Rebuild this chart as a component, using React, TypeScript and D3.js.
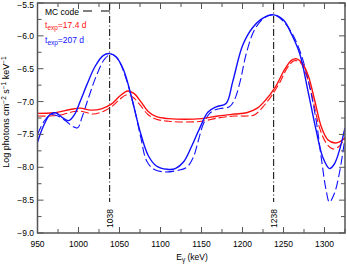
import React from "react";
import * as d3 from "d3";

const xTicksMajor = [950, 1000, 1050, 1100, 1150, 1200, 1250, 1300];
const xTicksMinor = [975, 1025, 1075, 1125, 1175, 1225, 1275, 1325];
const yTicksMajor = [-5.5, -6.0, -6.5, -7.0, -7.5, -8.0, -8.5, -9.0];
const yTicksMinor = [-5.75, -6.25, -6.75, -7.25, -7.75, -8.25, -8.75];
const markerLines = [1038, 1238];

const blueSolid: [number, number][] = [
  [950, -7.62], [957, -7.38], [965, -7.2], [972, -7.17], [980, -7.24], [988, -7.29],
  [995, -7.2], [1002, -7.0], [1010, -6.75], [1020, -6.47], [1030, -6.3], [1038, -6.27],
  [1046, -6.32], [1055, -6.52], [1065, -6.95], [1075, -7.45], [1085, -7.82], [1095, -7.98],
  [1108, -8.03], [1118, -8.02], [1128, -7.92], [1138, -7.68], [1148, -7.4], [1158, -7.16],
  [1168, -7.08], [1180, -7.03], [1188, -6.7], [1200, -6.15], [1212, -5.88], [1225, -5.73],
  [1238, -5.68], [1250, -5.76], [1260, -5.98], [1270, -6.28], [1280, -6.85], [1290, -7.45],
  [1298, -7.85], [1306, -8.02], [1312, -7.95], [1318, -7.75], [1325, -7.4],
];

const blueDashed: [number, number][] = [
  [950, -7.5], [958, -7.3], [966, -7.2], [975, -7.22], [985, -7.3], [993, -7.38],
  [999, -7.4], [1004, -7.25], [1012, -6.95], [1022, -6.6], [1032, -6.35], [1040, -6.28],
  [1048, -6.35], [1058, -6.65], [1068, -7.1], [1076, -7.55], [1083, -7.9], [1092, -8.03],
  [1105, -8.07], [1120, -8.05], [1132, -8.0], [1140, -7.85], [1146, -7.6], [1152, -7.35],
  [1160, -7.18], [1168, -7.12], [1176, -7.1], [1184, -7.08], [1190, -6.98], [1197, -6.7],
  [1205, -6.25], [1215, -5.9], [1227, -5.72], [1238, -5.68], [1250, -5.78], [1262, -6.0],
  [1272, -6.3], [1282, -6.78], [1290, -7.3], [1296, -7.85], [1302, -8.35], [1306, -8.53],
  [1312, -8.4], [1318, -8.1], [1325, -7.55],
];

const redSolid: [number, number][] = [
  [950, -7.18], [970, -7.17], [990, -7.12], [1002, -7.1], [1015, -7.13], [1028, -7.11],
  [1040, -7.04], [1050, -6.92], [1060, -6.84], [1068, -6.88], [1076, -7.0], [1085, -7.15],
  [1095, -7.23], [1110, -7.26], [1130, -7.27], [1150, -7.26], [1170, -7.22], [1190, -7.19],
  [1205, -7.17], [1218, -7.1], [1228, -6.98], [1240, -6.78], [1252, -6.5], [1260, -6.37],
  [1266, -6.35], [1273, -6.42], [1280, -6.6], [1288, -6.98], [1296, -7.38], [1304, -7.58],
  [1313, -7.63], [1320, -7.6], [1325, -7.55],
];

const redDashed: [number, number][] = [
  [950, -7.22], [965, -7.22], [980, -7.2], [995, -7.15], [1005, -7.15], [1018, -7.19],
  [1030, -7.15], [1040, -7.08], [1050, -6.97], [1058, -6.9], [1066, -6.93], [1075, -7.05],
  [1085, -7.2], [1095, -7.27], [1110, -7.3], [1130, -7.31], [1150, -7.3], [1170, -7.25],
  [1190, -7.22], [1205, -7.22], [1215, -7.2], [1225, -7.08], [1235, -6.92], [1245, -6.72],
  [1255, -6.48], [1263, -6.38], [1270, -6.4], [1278, -6.6], [1286, -6.98], [1294, -7.4],
  [1302, -7.63], [1310, -7.72], [1318, -7.68], [1325, -7.55],
];

const W = 347;
const H = 265;
const L = 37.5;
const R = 345;
const T = 3;
const B = 233;

export default function App() {
  const x = d3.scaleLinear().domain([950, 1325]).range([L, R]);
  const y = d3.scaleLinear().domain([-5.5, -9.0]).range([T, B]);
  const line = d3
    .line<[number, number]>()
    .x((d) => x(d[0]))
    .y((d) => y(d[1]))
    .curve(d3.curveCatmullRom.alpha(0.5));
  const font = "Liberation Sans, Arial, sans-serif";
  const axisColor = "#555";
  const fmt = (v: number) => (v < 0 ? "\u2212" : "") + Math.abs(v).toFixed(1);

  return (
    <svg
      width={W}
      height={H}
      style={{ position: "absolute", left: 0, top: 0, background: "#fff" }}
      fontFamily={font}
    >
      <defs>
        <clipPath id="plot">
          <rect x={L} y={T} width={R - L} height={B - T} />
        </clipPath>
      </defs>

      {/* marker lines */}
      {markerLines.map((m) => (
        <g key={m}>
          <line
            x1={x(m)}
            x2={x(m)}
            y1={T}
            y2={202}
            stroke="#000"
            strokeWidth={1}
            strokeDasharray="7,2.5,1,2.5"
          />
          <text
            transform={`translate(${x(m) + 3},${228}) rotate(-90)`}
            fontSize={8.5}
            fill="#000"
          >
            {m}
          </text>
        </g>
      ))}

      {/* curves */}
      <g clipPath="url(#plot)" fill="none">
        <path d={line(redDashed) || ""} stroke="#ff1010" strokeWidth={1.1} strokeDasharray="8,3" />
        <path d={line(blueDashed) || ""} stroke="#1010ff" strokeWidth={1.1} strokeDasharray="9,3.5" />
        <path d={line(redSolid) || ""} stroke="#ff1010" strokeWidth={1.4} />
        <path d={line(blueSolid) || ""} stroke="#1010ff" strokeWidth={1.4} />
      </g>

      {/* frame */}
      <rect x={L} y={T} width={R - L} height={B - T} fill="none" stroke={axisColor} strokeWidth={1.5} />

      {/* x ticks */}
      {xTicksMajor.map((t) => (
        <g key={"xM" + t}>
          <line x1={x(t)} x2={x(t)} y1={B} y2={B - 6} stroke={axisColor} strokeWidth={1} />
          <line x1={x(t)} x2={x(t)} y1={T} y2={T + 6} stroke={axisColor} strokeWidth={1} />
          <text x={x(t)} y={247} fontSize={8.5} textAnchor="middle" fill="#000">
            {t}
          </text>
        </g>
      ))}
      {xTicksMinor.map((t) => (
        <g key={"xm" + t}>
          <line x1={x(t)} x2={x(t)} y1={B} y2={B - 4} stroke={axisColor} strokeWidth={1} />
          <line x1={x(t)} x2={x(t)} y1={T} y2={T + 4} stroke={axisColor} strokeWidth={1} />
        </g>
      ))}

      {/* y ticks */}
      {yTicksMajor.map((t) => (
        <g key={"yM" + t}>
          <line x1={L} x2={L + 6} y1={y(t)} y2={y(t)} stroke={axisColor} strokeWidth={1} />
          <line x1={R} x2={R - 6} y1={y(t)} y2={y(t)} stroke={axisColor} strokeWidth={1} />
          <text x={34} y={Math.max(y(t) + 3, 8)} fontSize={8.5} textAnchor="end" fill="#000">
            {fmt(t)}
          </text>
        </g>
      ))}
      {yTicksMinor.map((t) => (
        <g key={"ym" + t}>
          <line x1={L} x2={L + 4} y1={y(t)} y2={y(t)} stroke={axisColor} strokeWidth={1} />
          <line x1={R} x2={R - 4} y1={y(t)} y2={y(t)} stroke={axisColor} strokeWidth={1} />
        </g>
      ))}

      {/* axis labels */}
      <text x={192} y={260} fontSize={8.5} textAnchor="middle" fill="#000">
        E<tspan fontSize={6.5} dy={2}>γ</tspan>
        <tspan dy={-2}> (keV)</tspan>
      </text>
      <text
        transform={`translate(9,${112}) rotate(-90)`}
        fontSize={9}
        textAnchor="middle"
        fill="#000"
      >
        Log photons cm<tspan fontSize={6.5} dy={-3}>−2</tspan>
        <tspan dy={3}> s</tspan>
        <tspan fontSize={6.5} dy={-3}>−1</tspan>
        <tspan dy={3}> keV</tspan>
        <tspan fontSize={6.5} dy={-3}>−1</tspan>
      </text>

      {/* legend */}
      <text x={45} y={15} fontSize={8.5} fill="#000">
        MC code
      </text>
      <line x1={83} x2={110} y1={11} y2={11} stroke="#000" strokeWidth={1} strokeDasharray="9,9" />
      <text x={45} y={28} fontSize={8.5} fill="#ff1010">
        t<tspan fontSize={6.5} dy={2}>exp</tspan>
        <tspan dy={-2}>=17.4 d</tspan>
      </text>
      <text x={45} y={43} fontSize={8.5} fill="#1010ff">
        t<tspan fontSize={6.5} dy={2}>exp</tspan>
        <tspan dy={-2}>=207 d</tspan>
      </text>
    </svg>
  );
}
